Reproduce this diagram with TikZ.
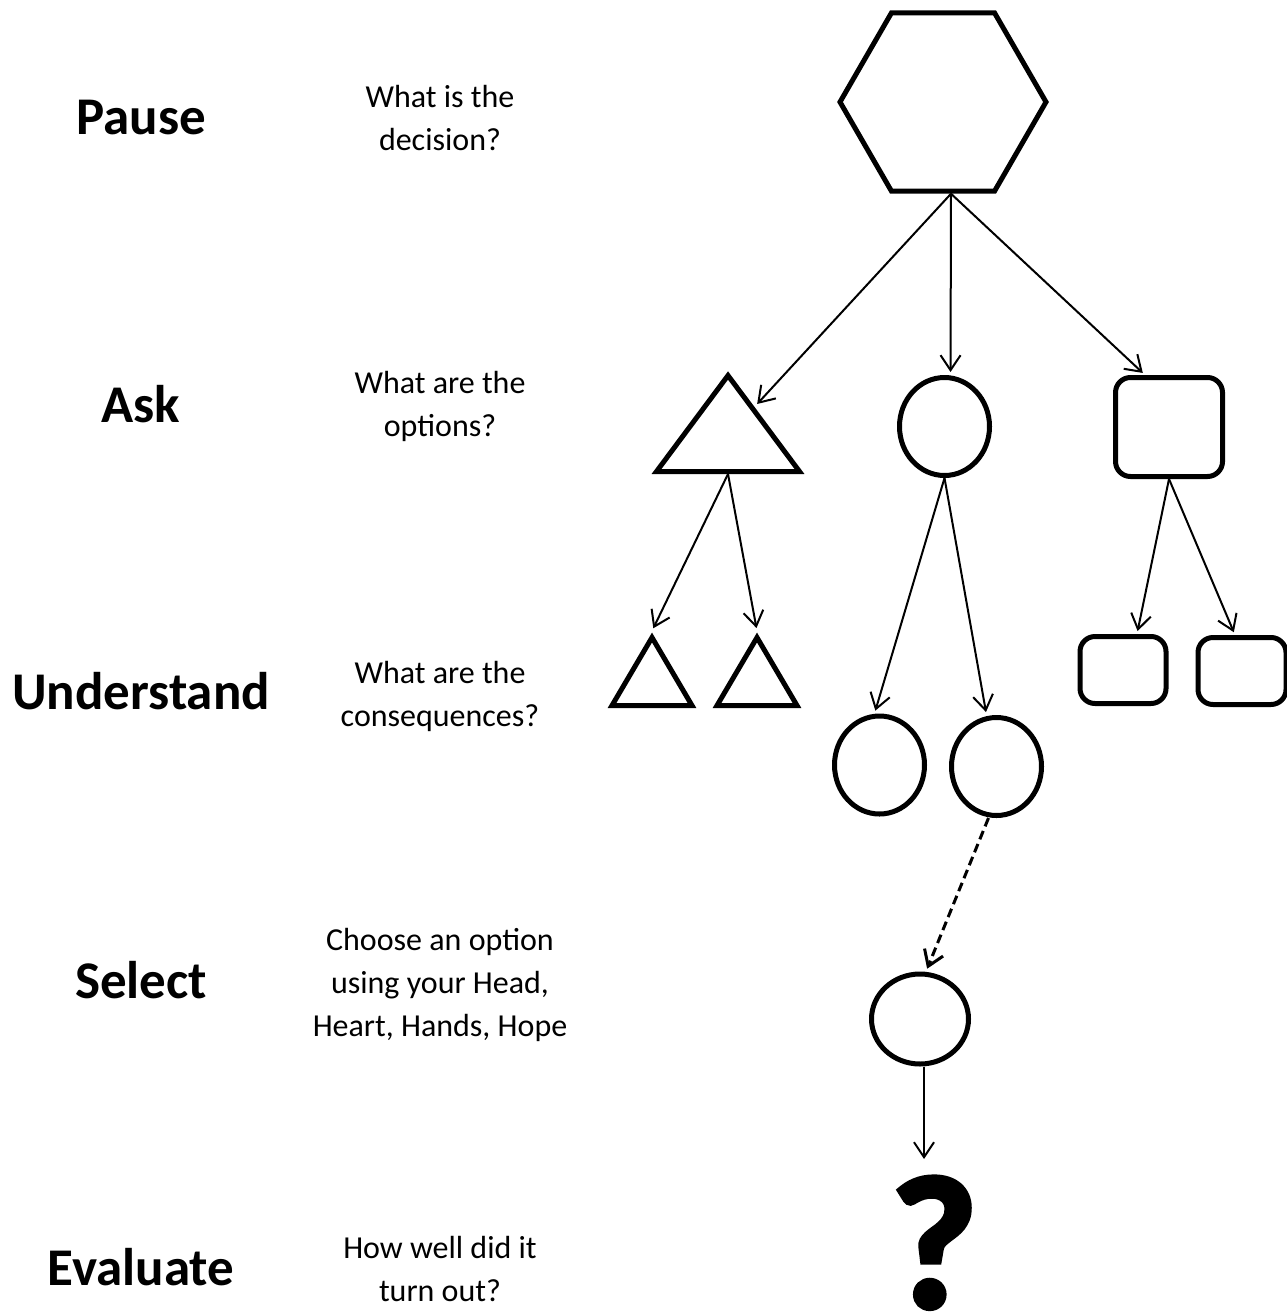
\documentclass[tikz,border=0pt]{standalone}
\usepackage{fontspec}
\setmainfont{Carlito}
\newfontfamily\heavyfont[FakeBold=3]{Carlito Bold}
\usetikzlibrary{arrows.meta,shapes.geometric,positioning}
\tikzset{
  basic/.style     = {draw, line width=5pt, inner sep=0pt},
  hexa/.style      = {basic, regular polygon, regular polygon sides=6, minimum size=206pt},
  tri/.style       = {basic, isosceles triangle, isosceles triangle stretches, shape border rotate=90, anchor=lower side},
  round/.style     = {basic, ellipse, minimum width=90pt, minimum height=98pt},
  box/.style       = {basic, rectangle, rounded corners=15pt},
  stage/.style     = {font=\bfseries\fontsize{53}{60}\selectfont, anchor=base},
  hint/.style      = {font=\fontsize{32}{43}\selectfont, align=center, anchor=base},
  link/.style      = {->, line width=2pt, shorten >=3pt}
}

\begin{document}
\begin{tikzpicture}[x=1pt, y=-1pt, >={Straight Barb[length=15pt,width=20pt]}]
\useasboundingbox (0,0) rectangle (1287,1312);

% left column, the five steps
\foreach \name/\ypos/\txt in {pause/134/Pause, ask/422/Ask, understand/709/Understand,
                              select/998/Select, evaluate/1285/Evaluate}
  \node[stage] (\name) at (141,\ypos) {\txt};

% middle column, the question of each step (placed at the last line)
\node[hint] (h1) at (440,150)  {What is the\\decision?};
\node[hint] (h2) at (440,436)  {What are the\\options?};
\node[hint] (h3) at (440,726)  {What are the\\consequences?};
\node[hint] (h4) at (440,1036) {Choose an option\\using your Head,\\Heart, Hands, Hope};
\node[hint] (h5) at (440,1301) {How well did it\\turn out?};

% the decision
\node[hexa] (d) at (943,102) {};

% the options
\node[tri, minimum width=143pt, minimum height=96pt] (o1) at (728,474) {};
\node[round] (o2) at (944.5,426.5) {};
\node[box, minimum width=107pt, minimum height=99pt] (o3) at (1169,427) {};

% the consequences
\node[tri, minimum width=80pt, minimum height=68pt] (o11) at (652,708) {};
\node[tri, minimum width=80pt, minimum height=68pt] (o12) at (757,708) {};
\node[round] (o21) at (879.5,765) {};
\node[round] (o22) at (996.5,766.5) {};
\node[box, minimum width=86pt, minimum height=67pt] (o31) at (1123,670) {};
\node[box, minimum width=88pt, minimum height=67pt] (o32) at (1242,671) {};

% the choice and its outcome
\node[basic, ellipse, minimum width=97pt, minimum height=90pt] (s) at (920,1019) {};
\node[font=\heavyfont\fontsize{188}{188}\selectfont, inner sep=0pt, anchor=base] (q) at (934,1307) {?};

% arrows
\draw[link] ([xshift=8pt]d.south) -- (o1);
\draw[link] ([xshift=8pt]d.south) -- ([xshift=6pt]o2.north);
\draw[link] ([xshift=8pt]d.south) -- ([xshift=-24pt]o3.north);

\draw[link] (o1.lower side) -- (o11.apex);
\draw[link] (o1.lower side) -- (o12.apex);
\draw[link] (o2.south) -- ([xshift=-5pt]o21.north);
\draw[link] (o2.south) -- ([xshift=-10pt]o22.north);
\draw[link] (o3.south) -- ([xshift=14pt]o31.north);
\draw[link] (o3.south) -- ([xshift=-7pt]o32.north);

\draw[link, line width=3pt, dash pattern=on 9pt off 5pt] ([xshift=-8pt]o22.south) -- ([xshift=6pt]s.north);
\draw[link, shorten >=18pt] ([xshift=4pt]s.south) -- ([xshift=4pt]s.south |- q.north);

\end{tikzpicture}
\end{document}
